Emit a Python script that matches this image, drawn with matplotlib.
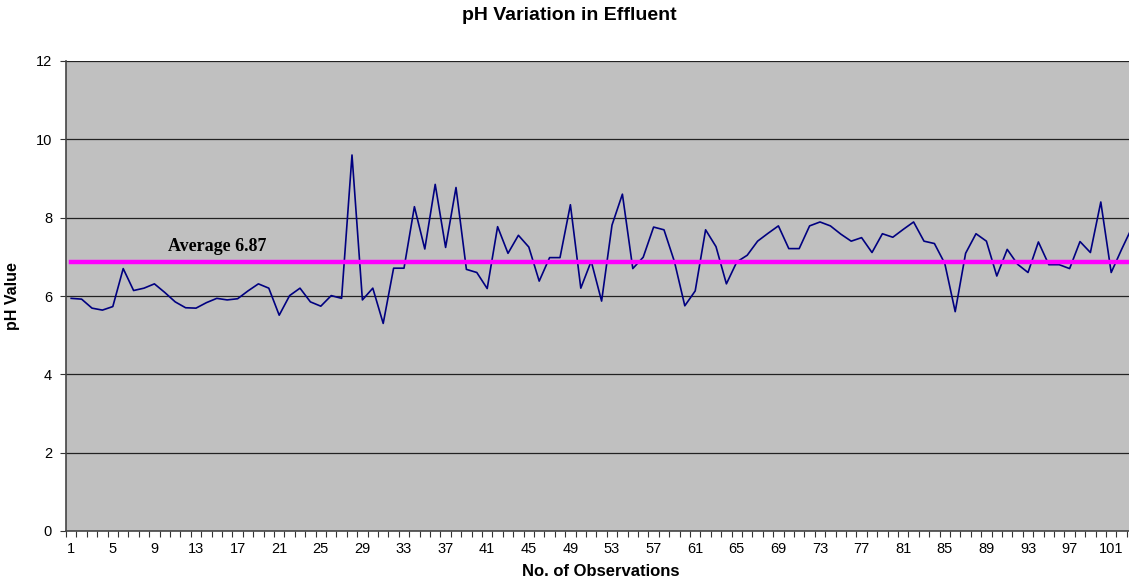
"""pH variation in effluent, line chart with average line."""

import matplotlib.pyplot as plt
import numpy as np

W, H = 1129, 582

ph_values = [
    5.94, 5.92, 5.69, 5.64, 5.73, 6.70, 6.14, 6.20, 6.31, 6.09,
    5.85, 5.70, 5.69, 5.83, 5.94, 5.90, 5.93, 6.13, 6.31, 6.20,
    5.51, 6.01, 6.20, 5.85, 5.74, 6.01, 5.94, 9.60, 5.90, 6.20,
    5.30, 6.71, 6.71, 8.28, 7.20, 8.85, 7.24, 8.77, 6.68, 6.60,
    6.19, 7.77, 7.09, 7.55, 7.25, 6.38, 6.98, 6.98, 8.33, 6.20,
    6.89, 5.87, 7.81, 8.60, 6.70, 6.99, 7.76, 7.69, 6.88, 5.75,
    6.13, 7.69, 7.26, 6.31, 6.87, 7.04, 7.40, 7.60, 7.79, 7.21,
    7.21, 7.79, 7.89, 7.79, 7.58, 7.40, 7.49, 7.11, 7.59, 7.50,
    7.70, 7.89, 7.40, 7.34, 6.83, 5.60, 7.09, 7.59, 7.40, 6.51,
    7.19, 6.81, 6.60, 7.38, 6.80, 6.80, 6.70, 7.39, 7.11, 8.40,
    6.60, 7.19, 7.75,
]
AVERAGE = 6.87
obs = np.arange(1, len(ph_values) + 1)
tick_labels = list(range(1, 102, 4))

fig = plt.figure(figsize=(W / 100, H / 100), dpi=100)
# plot area in pixels: left 66, top 61, bottom 531; 10.4 px per observation
left, top, bottom = 66, 61, 531
n_cat = len(ph_values)
right = left + n_cat * 10.4
ax = fig.add_axes([left / W, 1 - bottom / H, (right - left) / W, (bottom - top) / H])
ax.set_facecolor("#C0C0C0")

ax.plot(obs, ph_values, color="#000080", linewidth=1.2, zorder=3)
ax.plot(obs, [AVERAGE] * n_cat, color="#FF00FF", linewidth=3.2, zorder=4)

ax.text(15, 7.27, f"Average {AVERAGE}", ha="center", va="center",
        fontsize=13, fontweight="bold", family="Liberation Serif", zorder=5)

ax.set_xlim(0.5, n_cat + 0.5)
ax.set_ylim(0, 12)
ax.set_yticks(range(0, 13, 2))
ax.yaxis.grid(True, color="#222222", linewidth=0.9)
ax.set_axisbelow(True)

ax.set_xticks(np.arange(0.5, n_cat + 1, 1))
ax.set_xticklabels([])
ax.set_xticks(tick_labels, minor=True)
ax.set_xticklabels([str(t) for t in tick_labels], minor=True)
ax.tick_params(axis="x", which="major", length=4, width=0.8, direction="out", color="#333333")
ax.tick_params(axis="x", which="minor", length=0, pad=8, labelsize=10.5)
ax.tick_params(axis="y", length=4, width=0.8, direction="out", labelsize=10.5, pad=6, color="#333333")

for lbl in ax.get_xticklabels(minor=True) + ax.get_yticklabels():
    lbl.set_family("Liberation Sans")

for side in ("top", "right"):
    ax.spines[side].set_visible(False)
ax.spines["left"].set_color("#444444")
ax.spines["left"].set_linewidth(1.2)
ax.spines["bottom"].set_color("#444444")
ax.spines["bottom"].set_linewidth(1.2)

fig.text(569 / W, 1 - 15 / H, "pH Variation in Effluent", ha="center", va="center",
         fontsize=14, fontweight="bold", family="Liberation Sans")
fig.text(601 / W, 1 - 572 / H, "No. of Observations", ha="center", va="center",
         fontsize=12, fontweight="bold", family="Liberation Sans")
fig.text(12 / W, 1 - 296 / H, "pH Value", ha="center", va="center", rotation=90,
         fontsize=11.5, fontweight="bold", family="Liberation Sans")

fig.savefig("out.png", dpi=100)
